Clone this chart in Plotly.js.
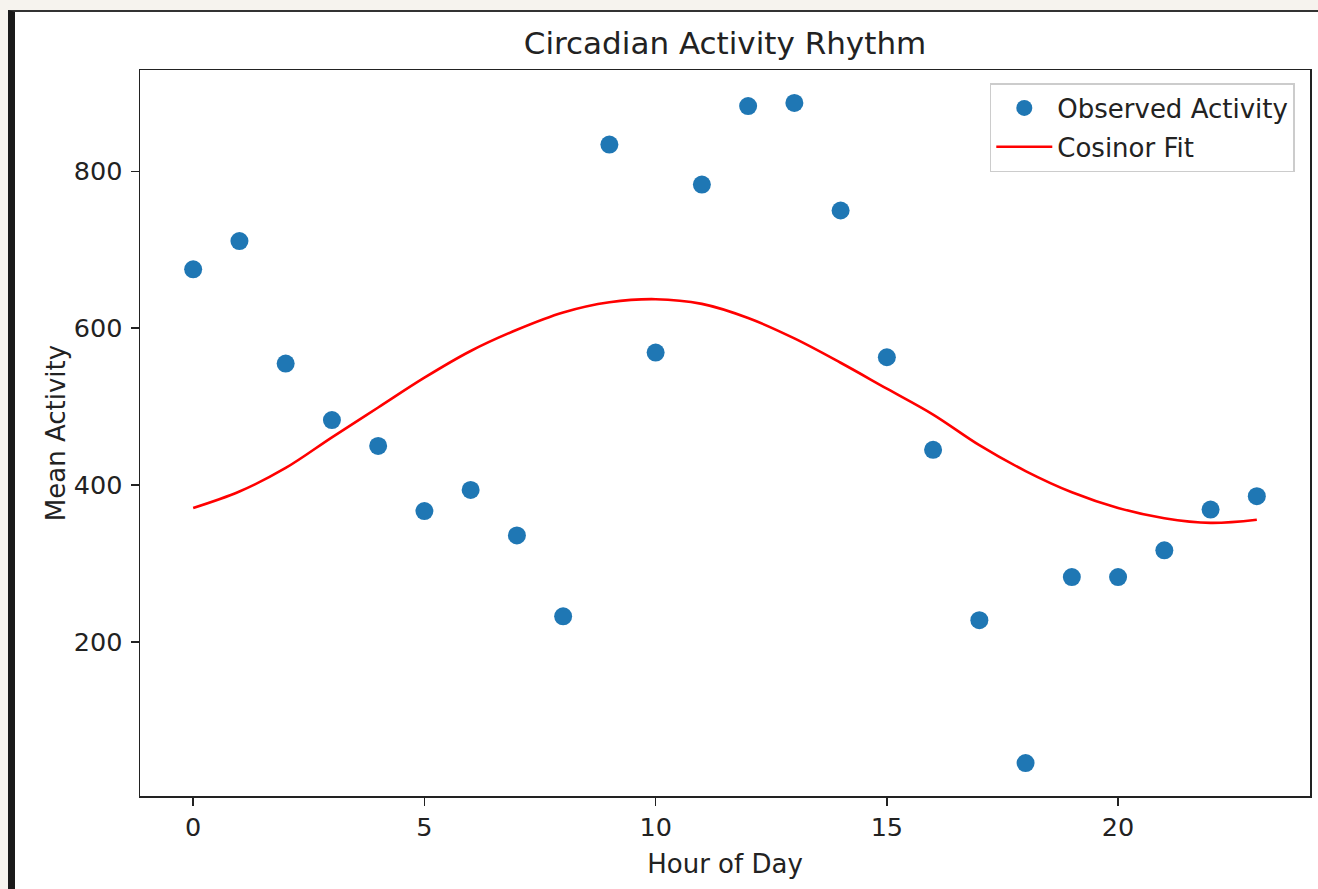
<!DOCTYPE html>
<html>
<head>
<meta charset="utf-8">
<script src="https://cdn.plot.ly/plotly-3.0.1.min.js"></script>
<style>
  html, body { margin: 0; padding: 0; background: #f6f3ee; width: 1318px; height: 889px; overflow: hidden; }
  #frame { position: absolute; left: 8px; top: 10px; width: 1310px; height: 879px; background: #ffffff;
           border-left: 7px solid #1a1a1a; border-top: 2px solid #333333; box-sizing: border-box; }
  #chart { position: absolute; left: 0; top: 0; width: 1303px; height: 877px; }
</style>
</head>
<body>
<div id="frame"><div id="chart"></div></div>
<script>
// Observed hourly mean activity
const hours = [0,1,2,3,4,5,6,7,8,9,10,11,12,13,14,15,16,17,18,19,20,21,22,23];
const observedActivity = [675,711,555,483,450,367,394,336,233,834,569,783,883,887,750,563,445,228,46,283,283,317,369,386];
// Cosinor fit curve at each hour
const fitHours = [0,1,2,3,4,5,6,7,8,9,10,11,12,13,14,15,16,17,18,19,20,21,22,23];
const cosinorFit = [371,392,422,461,499,537,571,598,620,633,637,631,613,587,556,523,490,451,418,391,371,358,352,356];
const xTicks = [0,5,10,15,20];
const yTicks = [200,400,600,800];

const font = "DejaVu Sans, sans-serif";
const traces = [
  { x: hours, y: observedActivity, type: 'scatter', mode: 'markers', name: 'Observed Activity',
    legendgroup: 'obs', marker: { color: '#1f77b4', size: 18 } },
  { x: fitHours, y: cosinorFit, type: 'scatter', mode: 'lines', name: 'Cosinor Fit',
    legendgroup: 'fit', line: { color: '#ff0000', width: 2.6, shape: 'spline', smoothing: 1 } }
];
const axisCommon = {
  showline: true, mirror: true, linecolor: '#222', linewidth: 1.5,
  ticks: 'outside', ticklen: 8, tickwidth: 1.5, tickcolor: '#222',
  showgrid: false, zeroline: false,
  tickfont: { family: font, size: 25.5, color: '#222' }
};
const layout = {
  width: 1303, height: 877,
  margin: { l: 125, r: 8, t: 58, b: 93 },
  paper_bgcolor: '#ffffff', plot_bgcolor: '#ffffff',
  title: { text: 'Circadian Activity Rhythm', font: { family: font, size: 31, color: '#222' },
           x: 0.5, xref: 'paper', y: 0.965, yanchor: 'middle' },
  xaxis: Object.assign({}, axisCommon, { range: [-1.15, 24.15], tickvals: xTicks,
           title: { text: 'Hour of Day', font: { family: font, size: 26, color: '#222' }, standoff: 13 } }),
  yaxis: Object.assign({}, axisCommon, { range: [4, 929], tickvals: yTicks, ticklabelstandoff: 3,
           title: { text: 'Mean Activity', font: { family: font, size: 26, color: '#222' }, standoff: 0 } }),
  showlegend: true,
  legend: { x: 0.987, y: 0.982, xanchor: 'right', yanchor: 'top', bgcolor: '#ffffff',
            traceorder: 'grouped', tracegroupgap: 2, itemwidth: 56,
            bordercolor: '#cccccc', borderwidth: 1.5, font: { family: font, size: 26, color: '#222' } }
};
Plotly.newPlot('chart', traces, layout, { displayModeBar: false, staticPlot: true });
</script>
</body>
</html>
